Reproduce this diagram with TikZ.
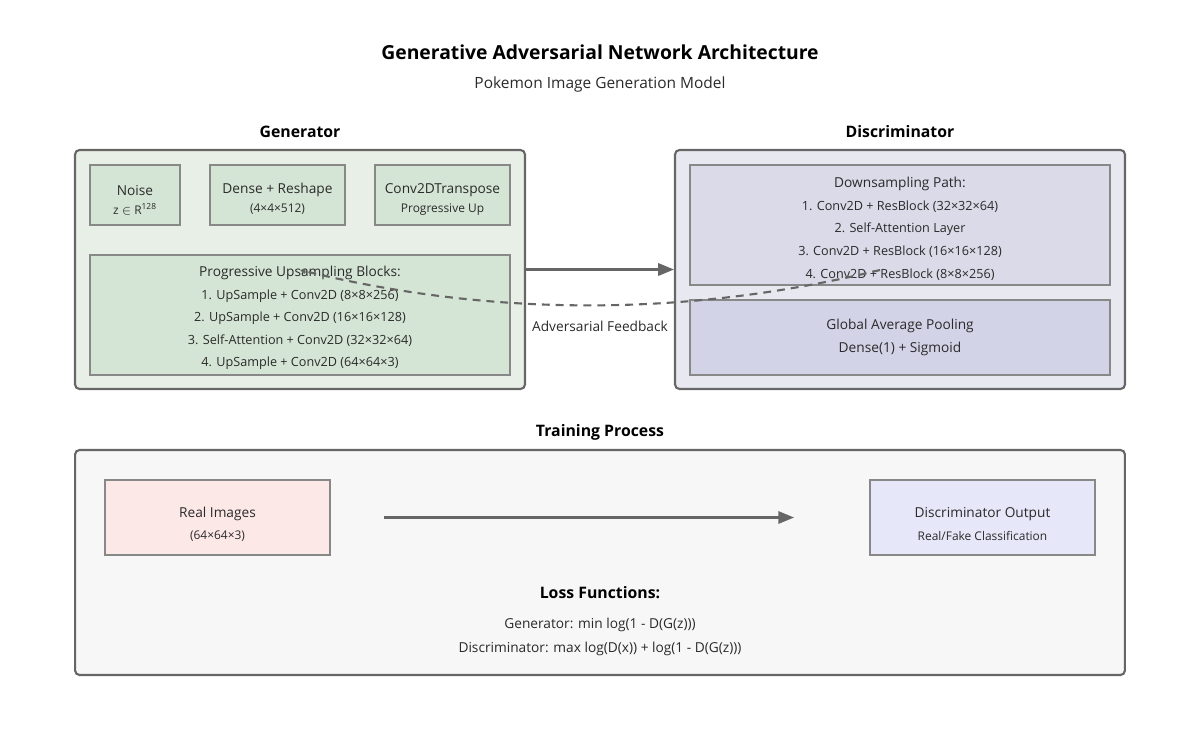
\documentclass[tikz,border=0pt]{standalone}
\usepackage{fontspec}
\setmainfont{Open Sans}
\usepackage{xcolor}
\usetikzlibrary{arrows.meta}

\definecolor{edge}{HTML}{666666}
\definecolor{subedge}{HTML}{888888}
\definecolor{ink}{HTML}{2A2A2A}
\definecolor{genfill}{HTML}{E8EFE6}
\definecolor{gensub}{HTML}{D5E5D5}
\definecolor{discfill}{HTML}{E8E8F0}
\definecolor{discup}{HTML}{DADAE8}
\definecolor{discdown}{HTML}{D3D3E8}
\definecolor{trainfill}{HTML}{F7F7F7}
\definecolor{realfill}{HTML}{FDE8E8}
\definecolor{outfill}{HTML}{E7E7FA}

\begin{document}
\begin{tikzpicture}[x=0.02cm, y=-0.02cm,
	outer/.style={draw=edge, line width=1.2pt, rounded corners=2.5pt, inner sep=0pt},
	inner/.style={draw=subedge, line width=1.1pt, inner sep=0pt},
	ttl/.style={font=\fontsize{11}{13}\selectfont\bfseries, inner sep=0pt},
	sub/.style={font=\fontsize{8.8}{11}\selectfont, text=ink, inner sep=0pt},
	head/.style={font=\fontsize{9}{11}\selectfont\bfseries, inner sep=0pt},
	lbl/.style={font=\fontsize{7.8}{9}\selectfont, text=ink, inner sep=0pt, yshift=-0.8pt},
	sml/.style={font=\fontsize{7.2}{9}\selectfont, text=ink, inner sep=0pt, yshift=-0.8pt},
	tny/.style={font=\fontsize{6.8}{8}\selectfont, text=ink, inner sep=0pt, yshift=-0.8pt},
	arr/.style={draw=edge, line width=1.3pt, -{Triangle[length=9pt, width=7pt]}},
	fb/.style={draw=edge, line width=1.2pt, dash pattern=on 4.5pt off 3.4pt, -{Triangle[length=3pt, width=3pt]}}]
	\useasboundingbox (0,0) rectangle (1200,750);
	\def\lsep{22.5}

	% titles
	\node[ttl] (title) at (600,52) {Generative Adversarial Network Architecture};
	\node[sub] (subtitle) at (600,84) {Pokemon Image Generation Model};
	\node[head] (genhead) at (300,132) {Generator};
	\node[head] (dischead) at (900,132) {Discriminator};
	\node[head] (trainhead) at (600,432) {Training Process};

	% generator
	\node[outer, fill=genfill, minimum width=9cm, minimum height=4.78cm] (gen) at (300,269.5) {};
	\node[inner, fill=gensub, minimum width=1.8cm, minimum height=1.2cm] (noise) at (135,195) {};
	\node[inner, fill=gensub, minimum width=2.7cm, minimum height=1.2cm] (dense) at (277.5,195) {};
	\node[inner, fill=gensub, minimum width=2.7cm, minimum height=1.2cm] (convt) at (442.5,195) {};
	\node[lbl] (noiseA) at (135,189) {Noise};
	\node[tny] (noiseB) at (135,208) {z $\in$ R\textsuperscript{128}};
	\node[lbl] (denseA) at (277.5,189) {Dense + Reshape};
	\node[tny] (denseB) at (277.5,208) {(4×4×512)};
	\node[lbl] (convtA) at (442.5,189) {Conv2DTranspose};
	\node[tny] (convtB) at (442.5,208) {Progressive Up};

	\node[inner, fill=gensub, minimum width=8.4cm, minimum height=2.4cm] (upblk) at (300,315) {};
	\node[lbl] (uphead) at (300,272) {Progressive Upsampling Blocks:};
	\foreach \i/\line in {1/{1. UpSample + Conv2D (8×8×256)}, 2/{2. UpSample + Conv2D (16×16×128)},
		3/{3. Self-Attention + Conv2D (32×32×64)}, 4/{4. UpSample + Conv2D (64×64×3)}} {
		\node[sml] (up\i) at (300,272+\i*\lsep) {\line};
	}

	% discriminator
	\node[outer, fill=discfill, minimum width=9cm, minimum height=4.78cm] (disc) at (900,269.5) {};
	\node[inner, fill=discup, minimum width=8.4cm, minimum height=2.4cm] (down) at (900,225) {};
	\node[lbl] (downhead) at (900,183) {Downsampling Path:};
	\foreach \i/\line in {1/{1. Conv2D + ResBlock (32×32×64)}, 2/{2. Self-Attention Layer},
		3/{3. Conv2D + ResBlock (16×16×128)}, 4/{4. Conv2D + ResBlock (8×8×256)}} {
		\node[sml] (down\i) at (900,183+\i*\lsep) {\line};
	}
	\node[inner, fill=discdown, minimum width=8.4cm, minimum height=1.5cm] (pool) at (900,337.5) {};
	\node[lbl] (poolA) at (900,325) {Global Average Pooling};
	\node[lbl] (poolB) at (900,348) {Dense(1) + Sigmoid};

	% generator -> discriminator, and the feedback curve
	\draw[arr] (gen.east) -- (disc.west);
	\coordinate (fbfrom) at (880,270);
	\coordinate (fbto) at (300,270);
	\draw[fb] (fbfrom) .. controls (687,317) and (493,317) .. (fbto);
	\node[lbl] (fblabel) at (600,325) {Adversarial Feedback};

	% training process
	\node[outer, fill=trainfill, minimum width=21cm, minimum height=4.5cm] (train) at (600,562.5) {};
	\node[inner, fill=realfill, minimum width=4.5cm, minimum height=1.5cm] (real) at (217.5,517.5) {};
	\node[lbl] (realA) at (217.5,513) {Real Images};
	\node[tny] (realB) at (217.5,535) {(64×64×3)};
	\node[inner, fill=outfill, minimum width=4.5cm, minimum height=1.5cm] (dout) at (982.5,517.5) {};
	\node[lbl] (doutA) at (982.5,513) {Discriminator Output};
	\node[tny] (doutB) at (982.5,535) {Real/Fake Classification};
	\draw[arr] ([xshift=1.06cm]real.east) -- ([xshift=-1.5cm]dout.west);

	\node[head] (losshead) at (600,593) {Loss Functions:};
	\node[lbl] (lossG) at (600,624) {Generator: min log(1 - D(G(z)))};
	\node[lbl] (lossD) at (600,648) {Discriminator: max log(D(x)) + log(1 - D(G(z)))};
\end{tikzpicture}
\end{document}
